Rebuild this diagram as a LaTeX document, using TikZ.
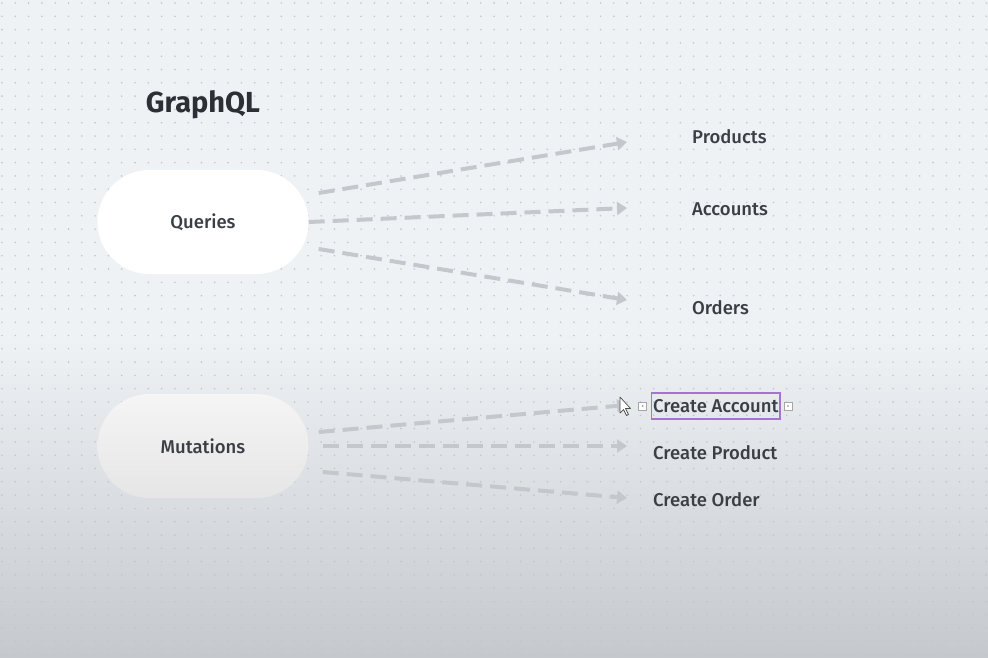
\documentclass[tikz,border=0pt]{standalone}
\usepackage{fontspec}
\setmainfont{Fira Sans}
\newfontfamily\medfont{Fira Sans Medium}
\usetikzlibrary{arrows.meta,positioning}

\definecolor{bgtop}{HTML}{EFF2F5}
\definecolor{bgbot}{HTML}{C5C9CD}
\definecolor{griddot}{HTML}{C2C6CB}
\definecolor{ink}{HTML}{2B3037}
\definecolor{txt}{HTML}{3A3F46}
\definecolor{linkgray}{HTML}{C4C8CC}
\definecolor{pick}{HTML}{A374D6}

\tikzset{
  pill/.style={rounded corners=52pt, minimum width=211pt, minimum height=104pt,
    font=\medfont\fontsize{18.5}{22}\selectfont, text=txt},
  leaf/.style={anchor=west, inner sep=0pt, font=\medfont\fontsize{18.5}{22}\selectfont, text=txt},
  link/.style={draw=linkgray, line width=4pt, dash pattern=on 16pt off 8pt,
    -{Triangle[length=10pt,width=13pt]}},
  handle/.style={draw=gray!70, fill=white, minimum size=8pt, inner sep=0pt, line width=0.6pt},
}

\begin{document}
\begin{tikzpicture}[x=1pt,y=-1pt]
% backdrop
\fill[bgtop] (0,0) rectangle (988,340);
\shade[top color=bgtop,bottom color=bgbot] (0,340) rectangle (988,657);
\useasboundingbox (0,0) rectangle (988,657);
\foreach \i in {0,...,74}
  \foreach \j in {0,...,49}
    \fill[griddot] (2+13.3*\i,3+13.3*\j) circle (0.9);

% title and the two kinds of operation
\node[font=\fontsize{29}{33}\selectfont\bfseries, text=ink] (title) at (203,105) {GraphQL};
\node[pill, fill=white] (queries) at (203,222) {Queries};
\node[pill, top color=white!96!black, bottom color=white!90!black] (mutations) at (203,446) {Mutations};

% targets
\node[leaf] (products) at (692,137) {Products};
\node[leaf] (accounts) at (692,209) {Accounts};
\node[leaf] (orders) at (692,308) {Orders};
\node[leaf, draw=pick, line width=1.3pt, inner xsep=1.5pt, minimum height=26pt] (cacc) at (651,406) {Create Account};
\node[leaf] (cprod) at (653,453) {Create Product};
\node[leaf] (cord) at (653,500) {Create Order};

% arrow ends
\coordinate (toproducts) at (627,142);
\coordinate (toaccounts) at (627,208);
\coordinate (toorders) at (627,300);
\coordinate (tocacc) at (627,405);
\coordinate (tocprod) at (627,446);
\coordinate (tocord) at (627,498);

\draw[link] ([shift={(10,-29)}]queries.east) -- (toproducts);
\draw[link] (queries.east) -- (toaccounts);
\draw[link] ([shift={(10,27)}]queries.east) -- (toorders);
\draw[link] ([shift={(10,-14)}]mutations.east) -- (tocacc);
\draw[link] ([shift={(14,0)}]mutations.east) -- (tocprod);
\draw[link] ([shift={(14,26)}]mutations.east) -- (tocord);

% selection handles and pointer
\node[handle, left=4pt of cacc] (hleft) {};
\node[handle, right=3pt of cacc] (hright) {};
\fill[gray] (hleft) circle (0.9);
\fill[gray] (hright) circle (0.9);
\draw[fill=white, draw=black!70, line width=0.7pt, line join=round]
  (620,397) -- ++(0,16) -- ++(3.5,-3.5) -- ++(3,6) -- ++(2,-1) -- ++(-3,-6) -- ++(5,0) -- cycle;
\end{tikzpicture}
\end{document}
